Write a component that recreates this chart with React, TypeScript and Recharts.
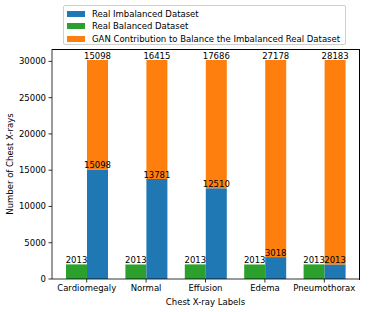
import React from 'react';
import { BarChart, Bar, XAxis, YAxis, LabelList } from 'recharts';

const categories = ['Cardiomegaly', 'Normal', 'Effusion', 'Edema', 'Pneumothorax'];
const imbalanced = [15098, 13781, 12510, 3018, 2013];
const balanced = [2013, 2013, 2013, 2013, 2013];
const gan = [15098, 16415, 17686, 27178, 28183];
const yTicks = [0, 5000, 10000, 15000, 20000, 25000, 30000];

const BLUE = '#1f77b4';
const GREEN = '#2ca02c';
const ORANGE = '#ff7f0e';
const FONT = 'DejaVu Sans';

const data = categories.map((name, i) => ({
  name,
  imbalanced: imbalanced[i],
  balanced: balanced[i],
  gan: gan[i],
}));

const legendItems = [
  { label: 'Real Imbalanced Dataset', color: BLUE },
  { label: 'Real Balanced Dataset', color: GREEN },
  { label: 'GAN Contribution to Balance the Imbalanced Real Dataset', color: ORANGE },
];

const tickStyle = { fontFamily: FONT, fontSize: 8.5, fill: '#000' };
const labelStyle = { fontFamily: FONT, fontSize: 8.5, fill: '#000' };

export default function App() {
  return (
    <div style={{ position: 'absolute', left: 0, top: 0, width: 369, height: 312, background: '#fff' }}>
      <BarChart
        width={369}
        height={312}
        data={data}
        margin={{ top: 49, right: 10, left: 0, bottom: 0 }}
        barGap={0}
      >
        <XAxis
          dataKey="name"
          height={33}
          padding={{ left: 5, right: 5 }}
          tick={tickStyle}
          tickSize={3.5}
          tickMargin={2}
          axisLine={{ stroke: '#000', strokeWidth: 0.8 }}
          tickLine={{ stroke: '#000', strokeWidth: 0.8 }}
          interval={0}
          label={{
            content: (p: any) => (
              <text
                x={p.viewBox.x + p.viewBox.width / 2}
                y={305}
                textAnchor="middle"
                style={{ fontFamily: FONT, fontSize: 8.5, fill: '#000' }}
              >
                Chest X-ray Labels
              </text>
            ),
          }}
        />
        <YAxis
          width={52}
          domain={[0, 31706]}
          ticks={yTicks}
          tick={tickStyle}
          tickSize={3.5}
          tickMargin={2.5}
          interval={0}
          allowDataOverflow
          axisLine={{ stroke: '#000', strokeWidth: 0.8 }}
          tickLine={{ stroke: '#000', strokeWidth: 0.8 }}
          label={{
            content: (p: any) => {
              const cy = p.viewBox.y + p.viewBox.height / 2;
              return (
                <text
                  x={10}
                  y={cy}
                  transform={`rotate(-90, 10, ${cy})`}
                  textAnchor="middle"
                  dominantBaseline="central"
                  style={{ fontFamily: FONT, fontSize: 8.5, fill: '#000' }}
                >
                  Number of Chest X-rays
                </text>
              );
            },
          }}
        />
        <Bar dataKey="balanced" stackId="a" fill={GREEN} barSize={21} isAnimationActive={false}>
          <LabelList dataKey="balanced" position="top" offset={1} style={labelStyle} />
        </Bar>
        <Bar dataKey="imbalanced" stackId="s" fill={BLUE} barSize={21} isAnimationActive={false}>
          <LabelList dataKey="imbalanced" position="top" offset={1} style={labelStyle} />
        </Bar>
        <Bar dataKey="gan" stackId="s" fill={ORANGE} barSize={21} isAnimationActive={false}>
          <LabelList dataKey="gan" position="top" offset={1} style={labelStyle} />
        </Bar>
      </BarChart>
      <div
        style={{
          position: 'absolute',
          left: 52,
          top: 49,
          width: 307.5,
          height: 230.5,
          borderTop: '0.8px solid #000',
          borderRight: '0.8px solid #000',
          boxSizing: 'border-box',
          pointerEvents: 'none',
        }}
      />
      <div
        style={{
          position: 'absolute',
          left: 63,
          top: 5,
          width: 283,
          height: 40,
          border: '1px solid #d0d0d0',
          borderRadius: 2,
          boxSizing: 'border-box',
          background: 'rgba(255,255,255,0.8)',
          fontFamily: FONT,
          fontSize: 8.5,
          color: '#000',
        }}
      >
        {legendItems.map((it, i) => (
          <div
            key={it.label}
            style={{ position: 'absolute', left: 3, top: 3 + i * 12.3, height: 10, display: 'flex', alignItems: 'center', whiteSpace: 'nowrap' }}
          >
            <span style={{ display: 'inline-block', width: 18, height: 6, background: it.color, marginRight: 7 }} />
            <span>{it.label}</span>
          </div>
        ))}
      </div>
    </div>
  );
}
